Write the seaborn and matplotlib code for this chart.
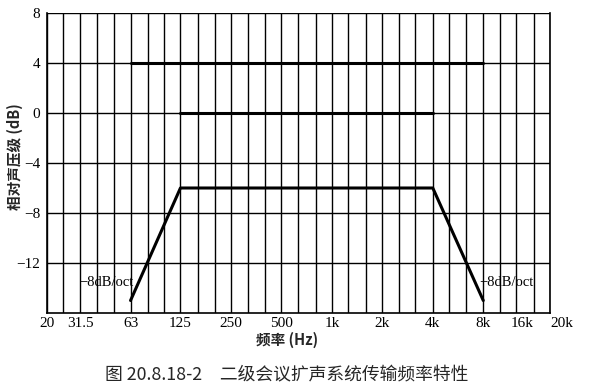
import numpy as np
import pandas as pd
import matplotlib
matplotlib.use("Agg")
import matplotlib.pyplot as plt
import seaborn as sns

# ---- data ----
series_names = ["upper", "zero", "response"]
upper_freq = [63, 8000]
upper_level = [4, 4]
zero_freq = [125, 4000]
zero_level = [0, 0]
resp_freq = [63, 125, 4000, 8000]
resp_level = [-15, -6, -6, -15]

grid_freqs = [20, 25, 31.5, 40, 50, 63, 80, 100, 125, 160, 200, 250, 315, 400,
              500, 630, 800, 1000, 1250, 1600, 2000, 2500, 3150, 4000, 5000,
              6300, 8000, 10000, 12500, 16000, 20000]
xtick_freqs = [20, 31.5, 63, 125, 250, 500, 1000, 2000, 4000, 8000, 16000, 20000]
xtick_labels = ["20", "31.5", "63", "125", "250", "500", "1k", "2k", "4k", "8k", "16k", "20k"]
ytick_vals = [8, 4, 0, -4, -8, -12]
ytick_labels = ["8", "4", "0", "\u22124", "\u22128", "\u221212"]
grid_levels = [8, 4, 0, -4, -8, -12]

df = pd.concat([
    pd.DataFrame({"series": "upper", "freq": upper_freq, "level": upper_level}),
    pd.DataFrame({"series": "zero", "freq": zero_freq, "level": zero_level}),
    pd.DataFrame({"series": "response", "freq": resp_freq, "level": resp_level}),
], ignore_index=True)

sns.set_theme(style="white")
plt.rcParams["font.family"] = ["Liberation Serif", "Noto Sans CJK SC", "DejaVu Sans"]

fig = plt.figure(figsize=(5.94, 3.90), dpi=100)
ax = fig.add_axes([47 / 594, 1 - 313 / 390, 503 / 594, 300 / 390])

ax.set_xscale("log")
ax.set_xlim(20, 20000)
ax.set_ylim(-16, 8)

for f in grid_freqs:
    ax.axvline(f, color="black", lw=1.0, zorder=1)
for g in grid_levels:
    ax.axhline(g, color="black", lw=1.0, zorder=1)

sns.lineplot(data=df, x="freq", y="level", hue="series", units="series",
             estimator=None, sort=False,
             palette={n: "black" for n in series_names}, lw=2.2,
             legend=False, ax=ax, zorder=3)

for s in ["left", "bottom", "right"]:
    ax.spines[s].set_color("black")
    ax.spines[s].set_linewidth(1.2)
ax.spines["top"].set_visible(False)

ax.set_xticks(xtick_freqs)
ax.set_xticklabels(xtick_labels)
ax.xaxis.set_minor_locator(matplotlib.ticker.NullLocator())
ax.set_yticks(ytick_vals)
ax.set_yticklabels(ytick_labels)
ax.tick_params(axis="both", length=0, labelsize=11, colors="black")
ax.tick_params(axis="x", pad=3)
ax.tick_params(axis="y", pad=5)
xl = ax.get_xticklabels()
xl[-2].set_horizontalalignment("right")
xl[-1].set_horizontalalignment("left")

ax.set_xlabel("")
ax.set_ylabel("")
fig.text(15 / 594, 1 - 157 / 390, "相对声压级 (dB)", rotation=90, ha="center", va="center",
         fontsize=10.5, fontweight="bold",
         family=["Noto Sans CJK SC", "DejaVu Sans"])
fig.text(287 / 594, 1 - 340 / 390, "频率 (Hz)", ha="center", va="center",
         fontsize=10.5, fontweight="bold",
         family=["Noto Sans CJK SC", "DejaVu Sans"])
fig.text(287 / 594, 1 - 375 / 390, "图 20.8.18-2　二级会议扩声系统传输频率特性",
         ha="center", va="center", fontsize=12.8,
         family=["Noto Sans CJK SC", "DejaVu Sans"])

ax.text(66, -13.6, "\u22128dB/oct", ha="right", va="center", fontsize=10.5,
        color="black", zorder=4)
ax.text(7600, -13.6, "\u22128dB/oct", ha="left", va="center", fontsize=10.5,
        color="black", zorder=4)

fig.savefig("out.png", dpi=100)
